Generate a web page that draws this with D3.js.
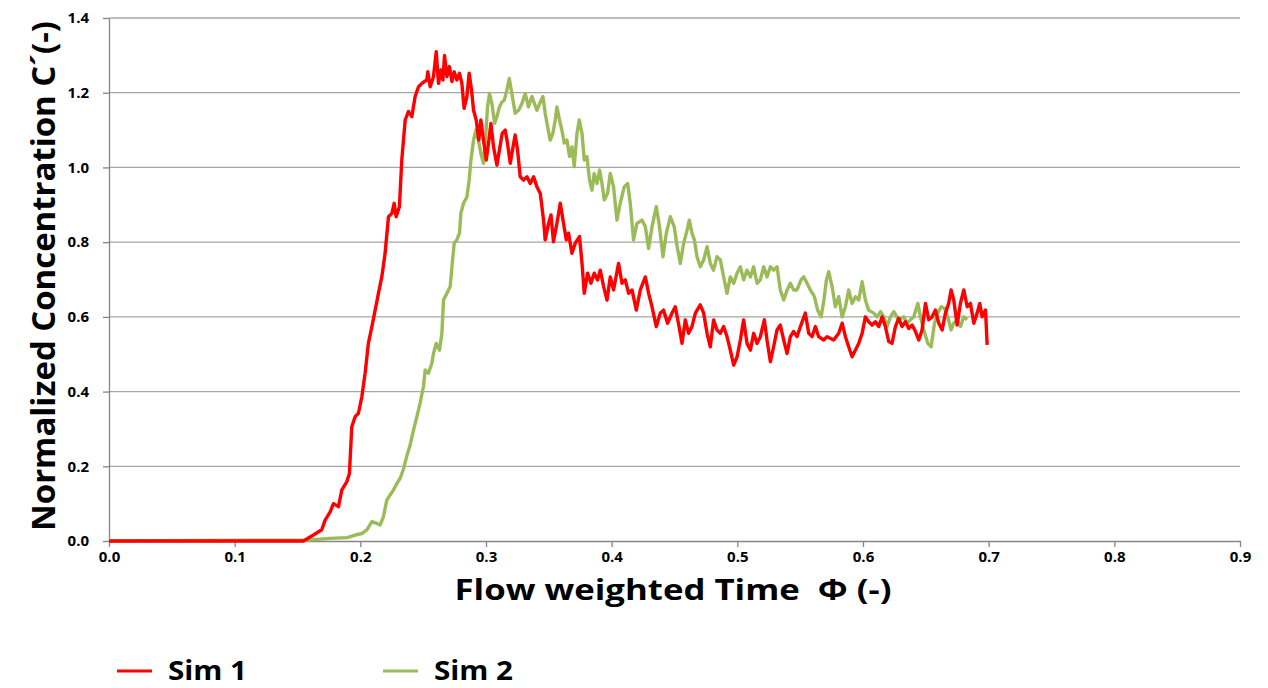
<!DOCTYPE html>
<html>
<head>
<meta charset="utf-8">
<script src="https://cdn.jsdelivr.net/npm/d3@7/dist/d3.min.js"></script>
<style>
  html, body { margin: 0; padding: 0; background: #fff; }
  svg { display: block; }
  text { font-family: "Open Sans", "DejaVu Sans", sans-serif; fill: #000; }
</style>
</head>
<body>
<svg id="chart" width="1268" height="688"></svg>
<script>
// Breakthrough curves: normalized concentration vs flow weighted time
const seriesNames = ["Sim 1", "Sim 2"];
const xTicks = [0, 0.1, 0.2, 0.3, 0.4, 0.5, 0.6, 0.7, 0.8, 0.9];
const yTicks = [0, 0.2, 0.4, 0.6, 0.8, 1.0, 1.2, 1.4];

const sim1Phi = [0,0.15,0.1547,0.1627,0.1693,0.172,0.176,0.1786,0.1826,0.1853,0.1893,0.1913,0.1932,0.1959,0.1985,0.2012,0.2038,0.2064,0.2092,0.2118,0.2144,0.2171,0.2197,0.2224,0.2251,0.2269,0.2285,0.2311,0.233,0.2357,0.2383,0.241,0.2436,0.2463,0.249,0.2529,0.2537,0.2556,0.2582,0.2604,0.2622,0.2641,0.2657,0.267,0.2689,0.2709,0.2729,0.2747,0.2768,0.2789,0.2808,0.2826,0.2848,0.2866,0.2885,0.2901,0.2922,0.2943,0.2959,0.298,0.3002,0.3023,0.3039,0.306,0.3087,0.3107,0.3129,0.3153,0.3171,0.3193,0.3211,0.3232,0.3251,0.3272,0.3299,0.3326,0.3352,0.3379,0.3405,0.3432,0.3458,0.3471,0.3498,0.3517,0.3537,0.3564,0.3591,0.3617,0.3639,0.3657,0.3684,0.371,0.3744,0.3764,0.3782,0.3808,0.3835,0.3861,0.3888,0.3909,0.3936,0.3963,0.3989,0.4015,0.4055,0.4082,0.4108,0.4135,0.4162,0.4196,0.4228,0.4268,0.4294,0.4321,0.4355,0.4387,0.4413,0.4445,0.448,0.4506,0.4533,0.456,0.4586,0.4612,0.4639,0.4666,0.4705,0.4732,0.4759,0.4785,0.4811,0.4838,0.4865,0.4891,0.4918,0.4944,0.4971,0.4998,0.5024,0.505,0.5077,0.5104,0.513,0.5157,0.5183,0.5215,0.5236,0.5263,0.5289,0.5316,0.5342,0.5369,0.5396,0.5422,0.5448,0.5475,0.5502,0.5541,0.5568,0.5595,0.5621,0.5647,0.5687,0.5714,0.5767,0.5807,0.5834,0.586,0.5886,0.5913,0.594,0.5966,0.5993,0.6019,0.6045,0.6072,0.6099,0.6125,0.6152,0.6178,0.6205,0.6231,0.6258,0.6284,0.6311,0.6338,0.6364,0.6391,0.6417,0.6444,0.647,0.6497,0.6523,0.655,0.6576,0.6603,0.663,0.6656,0.6682,0.6701,0.6722,0.6749,0.6775,0.6802,0.6829,0.6855,0.6882,0.6908,0.6929,0.6948,0.6975,0.6988];
const sim1Conc = [0,0,0,0.016,0.03,0.056,0.078,0.10,0.092,0.137,0.159,0.18,0.306,0.333,0.342,0.386,0.449,0.529,0.574,0.618,0.663,0.707,0.77,0.868,0.877,0.904,0.868,0.895,1.02,1.127,1.15,1.136,1.19,1.216,1.225,1.234,1.256,1.216,1.243,1.31,1.225,1.261,1.234,1.30,1.243,1.27,1.23,1.256,1.234,1.252,1.225,1.158,1.19,1.252,1.207,1.153,1.127,1.073,1.127,1.073,1.02,1.073,1.118,1.055,1.006,1.047,1.091,1.10,1.065,1.011,1.047,1.087,1.047,0.975,0.966,0.975,0.957,0.975,0.948,0.93,0.859,0.806,0.85,0.873,0.801,0.85,0.904,0.85,0.806,0.824,0.77,0.797,0.815,0.743,0.663,0.717,0.69,0.717,0.699,0.725,0.681,0.645,0.707,0.672,0.743,0.69,0.699,0.663,0.672,0.618,0.672,0.707,0.663,0.627,0.574,0.61,0.618,0.583,0.61,0.627,0.58,0.529,0.592,0.556,0.574,0.61,0.632,0.61,0.556,0.52,0.592,0.565,0.556,0.574,0.547,0.511,0.471,0.493,0.538,0.592,0.529,0.511,0.556,0.529,0.547,0.592,0.538,0.48,0.52,0.565,0.578,0.538,0.502,0.547,0.561,0.547,0.574,0.61,0.556,0.547,0.574,0.547,0.538,0.547,0.538,0.556,0.583,0.547,0.52,0.493,0.511,0.529,0.556,0.6,0.587,0.578,0.587,0.574,0.6,0.574,0.534,0.529,0.574,0.596,0.574,0.587,0.569,0.578,0.561,0.538,0.565,0.636,0.592,0.6,0.618,0.583,0.565,0.61,0.636,0.672,0.645,0.578,0.636,0.672,0.627,0.636,0.583,0.61,0.636,0.6,0.618,0.525];

const sim2Phi = [0,0.16,0.176,0.1893,0.1959,0.2012,0.2052,0.2092,0.2131,0.2158,0.2184,0.2211,0.2237,0.2264,0.2291,0.2317,0.2343,0.237,0.2396,0.2423,0.245,0.2476,0.2502,0.2516,0.2542,0.2569,0.2582,0.2604,0.263,0.2649,0.2662,0.2689,0.2715,0.2729,0.2747,0.2768,0.2789,0.28,0.2821,0.2848,0.2866,0.288,0.2901,0.292,0.294,0.2959,0.298,0.2999,0.3012,0.3028,0.3047,0.3068,0.3087,0.3107,0.3127,0.3145,0.3166,0.3185,0.3206,0.3232,0.3259,0.3286,0.3312,0.3338,0.3365,0.3405,0.3432,0.3453,0.3471,0.349,0.3511,0.3532,0.3551,0.3564,0.3585,0.3604,0.3623,0.3644,0.3665,0.3684,0.3702,0.3724,0.3742,0.3764,0.3782,0.3803,0.3824,0.3843,0.3861,0.3883,0.3904,0.3923,0.3941,0.3967,0.3989,0.4015,0.4042,0.4068,0.41,0.4127,0.4148,0.4174,0.4201,0.4241,0.4268,0.4294,0.4321,0.4355,0.4381,0.4408,0.4435,0.4467,0.4498,0.452,0.4546,0.4573,0.46,0.4618,0.4639,0.4658,0.4679,0.4705,0.4732,0.4759,0.4785,0.4811,0.4838,0.4865,0.4891,0.4918,0.4944,0.4971,0.4998,0.5024,0.505,0.5077,0.5104,0.513,0.5157,0.5183,0.521,0.5236,0.5263,0.5289,0.5316,0.5342,0.5369,0.5396,0.5422,0.5448,0.5475,0.5507,0.5528,0.5555,0.5581,0.5613,0.5639,0.5666,0.5687,0.5709,0.5727,0.5754,0.578,0.5807,0.5834,0.586,0.5886,0.5913,0.594,0.5966,0.5993,0.6019,0.6045,0.6085,0.6112,0.6139,0.6165,0.6192,0.6218,0.6245,0.6284,0.6324,0.6351,0.6377,0.6404,0.6436,0.6457,0.6484,0.6516,0.6542,0.6569,0.6595,0.6622,0.6648,0.6675,0.6701,0.6722,0.6749,0.6775,0.6802,0.6829];
const sim2Conc = [0,0.003,0.007,0.009,0.016,0.02,0.03,0.052,0.047,0.043,0.065,0.11,0.123,0.137,0.154,0.168,0.192,0.228,0.256,0.297,0.333,0.37,0.413,0.458,0.449,0.476,0.502,0.529,0.511,0.556,0.645,0.663,0.681,0.734,0.797,0.806,0.824,0.877,0.904,0.921,0.966,1.02,1.073,1.10,1.073,1.038,1.011,1.091,1.162,1.198,1.171,1.118,1.136,1.162,1.175,1.18,1.207,1.238,1.198,1.145,1.153,1.171,1.198,1.162,1.19,1.153,1.175,1.19,1.145,1.109,1.073,1.091,1.127,1.162,1.127,1.10,1.065,1.073,1.029,1.055,1.002,1.091,1.127,1.091,1.02,1.029,0.966,0.939,0.984,0.957,0.993,0.957,0.913,0.93,0.984,0.948,0.859,0.904,0.948,0.957,0.904,0.806,0.85,0.859,0.841,0.783,0.841,0.895,0.841,0.761,0.824,0.868,0.841,0.79,0.743,0.797,0.832,0.859,0.824,0.806,0.761,0.734,0.752,0.788,0.743,0.725,0.761,0.752,0.707,0.663,0.707,0.69,0.717,0.734,0.699,0.725,0.707,0.734,0.69,0.699,0.734,0.707,0.734,0.725,0.734,0.672,0.645,0.672,0.69,0.672,0.672,0.699,0.707,0.69,0.672,0.654,0.618,0.60,0.64,0.699,0.721,0.681,0.627,0.654,0.60,0.627,0.672,0.636,0.654,0.645,0.694,0.645,0.618,0.61,0.60,0.614,0.60,0.574,0.60,0.614,0.592,0.60,0.583,0.592,0.60,0.636,0.60,0.565,0.529,0.52,0.583,0.61,0.627,0.623,0.60,0.565,0.583,0.592,0.574,0.60,0.592];

const colors = ["#FF0000", "#9BBB59"];

const svg = d3.select("#chart");
const margin = { left: 109, right: 28, top: 18, bottom: 147 };
const W = 1268, H = 688;

const x = d3.scaleLinear().domain([0, 0.9]).range([margin.left, W - margin.right]);
const y = d3.scaleLinear().domain([0, 1.4]).range([H - margin.bottom, margin.top]);

// horizontal gridlines
svg.append("g")
  .selectAll("line")
  .data(yTicks.filter(d => d > 0))
  .join("line")
  .attr("x1", x(0)).attr("x2", x(0.9))
  .attr("y1", d => y(d)).attr("y2", d => y(d))
  .attr("stroke", "#A6A6A6").attr("stroke-width", 1.3);

// x axis
const xAxis = svg.append("g")
  .attr("transform", `translate(0,${y(0)})`)
  .call(d3.axisBottom(x).tickValues(xTicks).tickFormat(d3.format(".1f")).tickSize(6).tickPadding(4).tickSizeOuter(0));
xAxis.select(".domain").attr("stroke", "#868686").attr("stroke-width", 1.3);
xAxis.selectAll(".tick line").attr("stroke", "#868686").attr("stroke-width", 1.3);
xAxis.selectAll(".tick text").attr("font-size", 15).attr("font-weight", 700)
  .attr("font-family", "'Open Sans', sans-serif").attr("fill", "#000");

// y axis
const yAxis = svg.append("g")
  .attr("transform", `translate(${x(0)},0)`)
  .call(d3.axisLeft(y).tickValues(yTicks).tickFormat(d3.format(".1f")).tickSize(6).tickPadding(14).tickSizeOuter(0));
yAxis.select(".domain").attr("stroke", "#868686").attr("stroke-width", 1.3);
yAxis.selectAll(".tick line").attr("stroke", "#868686").attr("stroke-width", 1.3);
yAxis.selectAll(".tick text").attr("font-size", 15).attr("font-weight", 700)
  .attr("font-family", "'Open Sans', sans-serif").attr("fill", "#000");

// series lines
const line = d3.line().x(d => x(d[0])).y(d => y(d[1]));
const sim1 = sim1Phi.map((p, i) => [p, sim1Conc[i]]);
const sim2 = sim2Phi.map((p, i) => [p, sim2Conc[i]]);

svg.append("path").datum(sim2).attr("d", line)
  .attr("fill", "none").attr("stroke", colors[1]).attr("stroke-width", 3.4).attr("stroke-linejoin", "round");
svg.append("path").datum(sim1).attr("d", line)
  .attr("fill", "none").attr("stroke", colors[0]).attr("stroke-width", 3.4).attr("stroke-linejoin", "round");

// axis titles
svg.append("text")
  .attr("x", 673).attr("y", 600)
  .attr("text-anchor", "middle")
  .style("white-space", "pre")
  .attr("font-size", 29).attr("font-weight", 700)
  .attr("textLength", 437).attr("lengthAdjust", "spacingAndGlyphs")
  .text("Flow weighted Time  \u03A6 (-)");

svg.append("text")
  .attr("transform", `translate(55,${(20 + 532) / 2}) rotate(-90)`)
  .attr("text-anchor", "middle")
  .attr("font-size", 32).attr("font-weight", 700)
  .attr("textLength", 510).attr("lengthAdjust", "spacingAndGlyphs")
  .text("Normalized Concentration C\u00B4(-)");

// legend
const legendX = [117, 383];
const lg = svg.append("g");
seriesNames.forEach((name, i) => {
  lg.append("line")
    .attr("x1", legendX[i]).attr("x2", legendX[i] + 35)
    .attr("y1", 671).attr("y2", 671)
    .attr("stroke", colors[i]).attr("stroke-width", 3);
  lg.append("text")
    .attr("x", legendX[i] + 51).attr("y", 680)
    .attr("font-size", 26).attr("font-weight", 700)
    .attr("textLength", 79).attr("lengthAdjust", "spacingAndGlyphs")
    .text(name);
});
</script>
</body>
</html>
